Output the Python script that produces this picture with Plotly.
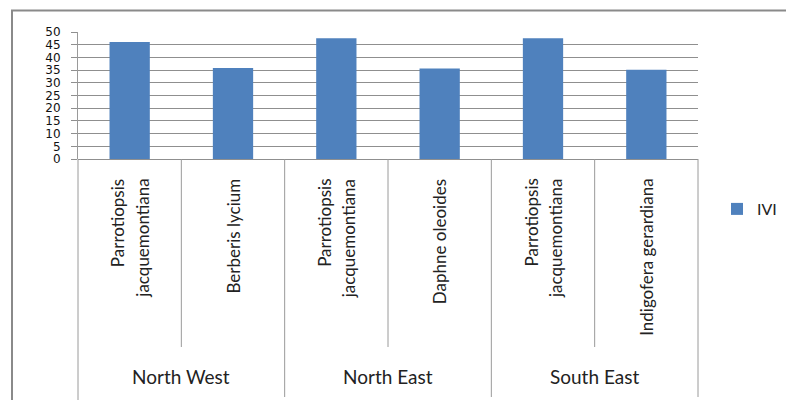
import plotly.graph_objects as go

regions = ["North West", "North West", "North East", "North East", "South East", "South East"]
species = ["Parrotiopsis<br>jacquemontiana", "Berberis lycium",
           "Parrotiopsis<br>jacquemontiana", "Daphne oleoides",
           "Parrotiopsis<br>jacquemontiana", "Indigofera gerardiana"]
ivi = [46.1, 35.8, 47.5, 35.6, 47.5, 35.1]
group_names = ["North West", "North East", "South East"]
y_ticks = [0, 5, 10, 15, 20, 25, 30, 35, 40, 45, 50]

W, H = 786, 400
L, R, T, B = 78, 698, 32, 159
xpos = list(range(len(species)))

def fx(px):
    return px / W

def fy(py):
    return 1 - py / H

GRID = "#8f8f8f"
LINE = "#9a9a9a"
fig = go.Figure()
fig.add_trace(go.Bar(x=xpos, y=ivi, name="IVI", marker=dict(color="#4F81BD", line=dict(width=0)),
                     showlegend=True))

shapes = []
# outer chart border (left + top)
shapes.append(dict(type="line", xref="paper", yref="paper", x0=fx(12), x1=fx(12), y0=fy(10), y1=fy(410),
                   line=dict(color="#8a8a8a", width=2)))
shapes.append(dict(type="line", xref="paper", yref="paper", x0=fx(11), x1=fx(800), y0=fy(10.5), y1=fy(10.5),
                   line=dict(color="#8a8a8a", width=2)))
# y axis extension down through label area
shapes.append(dict(type="line", xref="paper", yref="paper", x0=fx(L), x1=fx(L), y0=fy(B), y1=fy(401),
                   line=dict(color=LINE, width=1)))
# right border of category area
shapes.append(dict(type="line", xref="paper", yref="paper", x0=fx(R), x1=fx(R), y0=fy(B), y1=fy(397),
                   line=dict(color=LINE, width=1)))
# dividers
for i in range(1, len(species)):
    same_group = regions[i] == regions[i - 1]
    bottom = 347 if same_group else 397
    shapes.append(dict(type="line", xref="x", yref="paper", x0=i - 0.5, x1=i - 0.5, y0=fy(B), y1=fy(bottom),
                       line=dict(color=LINE, width=1)))

LABEL_FONT = dict(family="Lato", size=17, color="#222222")
annotations = []
for i, s in enumerate(species):
    parts = s.split("<br>")
    n = len(parts)
    for k, part in enumerate(parts):
        shift = (k - (n - 1) / 2) * 25
        annotations.append(dict(x=xpos[i], y=fy(177), xref="x", yref="paper", text=part, textangle=-90,
                                showarrow=False, yanchor="top", xanchor="center", xshift=shift,
                                font=LABEL_FONT))
for g in group_names:
    idx = [i for i, r in enumerate(regions) if r == g]
    annotations.append(dict(x=sum(idx) / len(idx), y=fy(376), xref="x", yref="paper", text=g,
                            showarrow=False, yanchor="middle", xanchor="center",
                            font=dict(family="Lato", size=19, color="#222222")))

fig.update_layout(
    width=W, height=H,
    margin=dict(l=0, r=0, t=0, b=0, pad=0, autoexpand=False),
    paper_bgcolor="white", plot_bgcolor="white",
    bargap=0.61,
    shapes=shapes, annotations=annotations,
    legend=dict(x=fx(717), y=fy(209), xref="container", yref="container",
                xanchor="left", yanchor="middle",
                font=dict(family="Lato", size=16, color="#222222"), bgcolor="rgba(0,0,0,0)"),
    xaxis=dict(domain=[fx(L), fx(R)], range=[-0.5, len(species) - 0.5], showticklabels=False,
               showgrid=False, zeroline=False, showline=False, ticks="", automargin=False),
    yaxis=dict(domain=[fy(B), fy(T)], range=[0, 50], tickvals=y_ticks, showgrid=True, gridcolor=GRID,
               gridwidth=1, zeroline=True, zerolinecolor=GRID, zerolinewidth=1,
               showline=True, linecolor=LINE, linewidth=1,
               ticks="outside", ticklen=6, tickcolor=GRID, automargin=False,
               tickfont=dict(family="DejaVu Sans", size=12, color="#111111"),
               ticklabelstandoff=8),
)

fig.write_html("out.html")
